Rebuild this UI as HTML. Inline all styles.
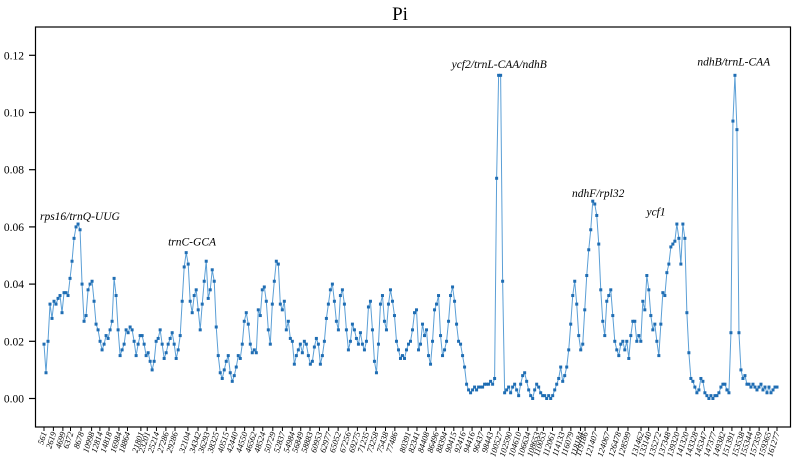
<!DOCTYPE html>
<html><head><meta charset="utf-8"><style>
html,body{margin:0;padding:0;background:#fff;}
svg{display:block;font-family:"Liberation Serif",serif;}
</style></head><body>
<svg id="chart" width="798" height="463" viewBox="0 0 798 463">
<text x="400" y="20" font-size="19" text-anchor="middle">Pi</text>
<rect x="35.5" y="27" width="755" height="400" fill="none" stroke="#000" stroke-width="1.2"/>
<g id="yaxis"></g>
<g id="xaxis"></g>
<g id="series"></g>
<g id="notes"></g>
</svg>
<script>
const yTicks = [0, 0.02, 0.04, 0.06, 0.08, 0.10, 0.12];
const yTickLabels = ["0.00","0.02","0.04","0.06","0.08","0.10","0.12"];
const xTicks = [561,2619,4699,6372,8678,10998,12814,14818,16984,18864,21801,23201,25214,27286,29286,32104,34342,36293,38325,40515,42440,44550,46562,48524,50729,52837,54984,56849,58883,60953,62977,65052,67256,69275,71235,73258,75438,77486,80391,82341,84408,86496,88394,90415,92416,94416,96437,98443,100527,102590,104610,106634,108653,110053,112061,114133,116079,118184,119186,121407,124067,126478,128599,131462,133140,135272,137348,139320,141320,143328,145347,147377,149382,151391,153538,155344,157359,159365,161277];
const piValues = [.019,.009,.020,.033,.028,.034,.033,.035,.036,.030,.037,.037,.036,.042,.048,.056,.060,.061,.059,.040,.027,.029,.038,.040,.041,.034,.026,.024,.020,.017,.019,.022,.021,.024,.027,.042,.036,.024,.015,.017,.019,.024,.023,.025,.024,.020,.015,.019,.022,.022,.019,.015,.016,.013,.010,.013,.020,.021,.024,.019,.014,.016,.019,.021,.023,.019,.014,.017,.022,.034,.046,.051,.047,.034,.030,.036,.038,.031,.024,.033,.041,.048,.035,.038,.045,.041,.025,.015,.009,.007,.010,.013,.015,.009,.006,.008,.011,.015,.014,.019,.027,.030,.026,.019,.016,.017,.016,.031,.029,.038,.039,.034,.024,.019,.033,.041,.048,.047,.033,.031,.034,.024,.027,.021,.020,.012,.015,.017,.019,.016,.020,.019,.015,.012,.013,.018,.021,.019,.012,.015,.020,.028,.033,.038,.040,.034,.027,.024,.036,.038,.033,.024,.017,.020,.026,.024,.021,.019,.023,.019,.017,.020,.032,.034,.024,.013,.009,.019,.033,.036,.027,.024,.033,.038,.034,.029,.020,.017,.014,.015,.014,.017,.019,.020,.024,.030,.031,.017,.019,.026,.022,.024,.015,.012,.020,.031,.033,.036,.022,.015,.017,.020,.027,.036,.039,.034,.026,.020,.019,.015,.011,.005,.003,.002,.003,.004,.003,.004,.004,.004,.005,.005,.005,.006,.005,.007,.077,.113,.113,.041,.002,.003,.004,.002,.004,.005,.003,.001,.005,.008,.009,.006,.003,.001,.000,.003,.005,.004,.002,.001,.001,.000,.001,.000,.001,.003,.005,.007,.011,.006,.008,.011,.017,.026,.036,.041,.033,.022,.017,.019,.031,.043,.052,.059,.069,.068,.064,.054,.038,.027,.022,.034,.036,.038,.029,.020,.017,.015,.019,.020,.017,.020,.014,.022,.027,.027,.020,.022,.020,.034,.031,.043,.038,.029,.024,.026,.020,.015,.026,.037,.036,.044,.047,.053,.054,.055,.061,.056,.047,.061,.056,.030,.016,.007,.006,.004,.002,.003,.007,.006,.002,.001,.000,.001,.000,.001,.001,.002,.004,.005,.005,.003,.002,.023,.097,.113,.094,.023,.010,.007,.008,.005,.005,.004,.005,.004,.003,.004,.005,.003,.004,.002,.004,.002,.003,.004,.004];
const noteLabels = ["rps16/trnQ-UUG","trnC-GCA","ycf2/trnL-CAA/ndhB","ndhF/rpl32","ycf1","ndhB/trnL-CAA"];
const noteFrac = [0.049,0.202,0.621,0.756,0.835,0.941];
const noteValues = [0.0625,0.0535,0.1155,0.0705,0.064,0.1165];

const NS="http://www.w3.org/2000/svg";
const X0=44, X1=777, Y0=398.5, YPER=57.2/0.02;
const genomeMin=561, genomeMax=161277;
function yScale(v){return Y0 - v*YPER;}
function xGenome(g){return X0 + (g-genomeMin)/(genomeMax-genomeMin)*(X1-X0);}
function xIndex(i){return X0 + i/(piValues.length-1)*(X1-X0);}
function xFrac(f){return X0 + f*(X1-X0);}
function mk(tag,attrs){const e=document.createElementNS(NS,tag);for(const k in attrs)e.setAttribute(k,attrs[k]);return e;}

const ya=document.getElementById('yaxis');
yTicks.forEach((t,i)=>{
  const y=yScale(t);
  const l=mk('line',{x1:29,x2:35.5,y1:y,y2:y,stroke:'#000','stroke-width':1.2});
  
  
  ya.appendChild(l);
  const tx=mk('text',{x:24,y:y+4,'font-size':11.5,'text-anchor':'end'});
  
  
  tx.textContent=yTickLabels[i];
  ya.appendChild(tx);
});

const xa=document.getElementById('xaxis');
xTicks.forEach(t=>{
  const x=xGenome(t);
  const l=mk('line',{x1:x,x2:x,y1:427,y2:431,stroke:'#000','stroke-width':1});
  
  
  xa.appendChild(l);
  const tx=mk('text',{x:0,y:0,'font-size':8.5,'font-style':'italic','text-anchor':'end',transform:`translate(${x+3},433) rotate(-72)`});
  
  
  tx.textContent=String(t);
  xa.appendChild(tx);
});

const s=document.getElementById('series');
const pts=piValues.map((v,i)=>xIndex(i).toFixed(2)+','+yScale(v).toFixed(2)).join(' ');
const pl=mk('polyline',{points:pts,fill:'none',stroke:'#5b9fd6','stroke-width':1});


s.appendChild(pl);
piValues.forEach((v,i)=>{
  const r=mk('rect',{x:xIndex(i)-1.5,y:yScale(v)-1.5,width:3,height:3,fill:'#1f6db3'});
  
  
  s.appendChild(r);
});

const n=document.getElementById('notes');
noteLabels.forEach((lab,i)=>{
  const tx=mk('text',{x:xFrac(noteFrac[i]),y:yScale(noteValues[i]),'font-size':11.5,'font-style':'italic','text-anchor':'middle'});
  
  
  tx.textContent=lab;
  n.appendChild(tx);
});
</script>
</body></html>
